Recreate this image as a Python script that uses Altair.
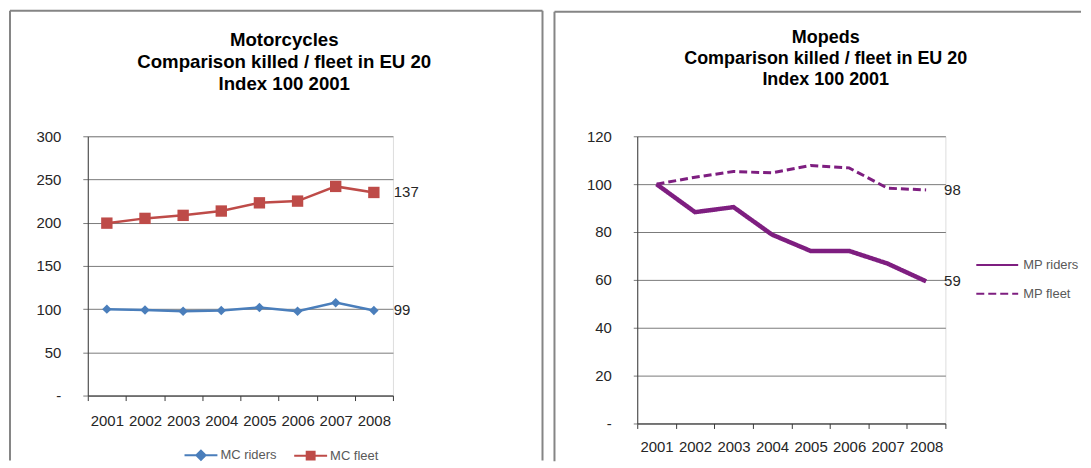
import altair as alt
import pandas as pd

years = ["2001", "2002", "2003", "2004", "2005", "2006", "2007", "2008"]
mc_series = ["MC riders", "MC fleet"]
mc_riders = [100, 99, 97.5, 98.5, 102, 97.5, 107.5, 98.5]
mc_fleet = [199.5, 205, 208.5, 213.5, 223, 225, 242, 235]
mc_end_labels = ["99", "137"]
mc_title = ["Motorcycles", "Comparison killed / fleet in EU 20", "Index 100 2001"]
mc_ticks = [0, 50, 100, 150, 200, 250, 300]

mp_series = ["MP riders", "MP fleet"]
mp_riders = [100, 88.3, 90.4, 78.9, 72.1, 72.1, 66.8, 59.4]
mp_fleet = [100, 102.9, 105.3, 104.7, 107.8, 106.8, 98.3, 97.6]
mp_end_labels = ["59", "98"]
mp_title = ["Mopeds", "Comparison killed / fleet in EU 20", "Index 100 2001"]
mp_ticks = [0, 20, 40, 60, 80, 100, 120]

FONT = "Liberation Sans"
BLUE = "#4A7EBB"
RED = "#BE4B48"
PURPLE = "#7E1E80"
GRID = "#7a7a7a"
AXIS = "#3a3a3a"
FRAME = "#858585"
TXT = "#262626"

DIAMOND_LINE = "M-1,0L1,0M0,-0.28L0.28,0L0,0.28L-0.28,0Z"
SQUARE_LINE = "M-1,0L1,0M-0.24,-0.24L0.24,-0.24L0.24,0.24L-0.24,0.24Z"


def long_df(names, values_list, end_labels):
    rows = []
    for name, vals, lab in zip(names, values_list, end_labels):
        for i, (yr, v) in enumerate(zip(years, vals)):
            rows.append({"year": yr, "value": v, "series": name,
                         "end": lab if i == len(years) - 1 else ""})
    return pd.DataFrame(rows)


def x_enc(label_pad):
    return alt.X("year:N", sort=years,
                 scale=alt.Scale(type="band", domain=years, paddingInner=0, paddingOuter=0),
                 axis=alt.Axis(title=None, labelAngle=0, labelFont=FONT, labelFontSize=15,
                               labelColor=TXT, tickBand="extent", tickSize=5, tickColor=AXIS,
                               domainColor=AXIS, labelPadding=label_pad, grid=False))


def y_enc(top, ticks, tick_size, label_pad):
    return alt.Y("value:Q", scale=alt.Scale(domain=[0, top], nice=False),
                 axis=alt.Axis(title=None, values=ticks,
                               labelExpr="datum.value == 0 ? '-' : datum.label",
                               labelFont=FONT, labelFontSize=15, labelColor=TXT,
                               tickSize=tick_size, tickColor=GRID, gridColor=GRID,
                               domainColor=AXIS, labelPadding=label_pad))


def blank():
    return alt.Chart(alt.Data(values=[{}]))


# ---------------- Left panel: Motorcycles ----------------
mc_df = long_df(mc_series, [mc_riders, mc_fleet], mc_end_labels)
xl = x_enc(13)
yl = y_enc(300, mc_ticks, 5, 22)
base_l = alt.Chart(mc_df)

l_frame = [
    blank().mark_rule(color=FRAME, strokeWidth=2).encode(x=alt.value(-78), x2=alt.value(456), y=alt.value(-126)),
    blank().mark_rule(color=FRAME, strokeWidth=2).encode(x=alt.value(-78), y=alt.value(-126), y2=alt.value(325)),
    blank().mark_rule(color=FRAME, strokeWidth=2).encode(x=alt.value(456), y=alt.value(-126), y2=alt.value(325)),
]
l_title = blank().mark_text(text=mc_title, font=FONT, fontSize=18.7, fontWeight="bold",
                            lineHeight=22.5, align="center", baseline="middle",
                            color="#000000").encode(x=alt.value(197), y=alt.value(-97))
l_line_r = base_l.transform_filter(alt.datum.series == mc_series[0]).mark_line(
    color=BLUE, strokeWidth=2.5).encode(x=xl, y=yl)
l_line_f = base_l.transform_filter(alt.datum.series == mc_series[1]).mark_line(
    color=RED, strokeWidth=2.5).encode(x=xl, y=yl)
l_pt_r = base_l.transform_filter(alt.datum.series == mc_series[0]).mark_point(
    shape="diamond", filled=True, size=90, color=BLUE, opacity=1).encode(x=xl, y=yl)
l_pt_f = base_l.transform_filter(alt.datum.series == mc_series[1]).mark_point(
    shape="square", filled=True, size=130, color=RED, opacity=1).encode(x=xl, y=yl)
l_end = base_l.transform_filter(alt.datum.end != "").mark_text(
    align="left", baseline="middle", dx=20, font=FONT, fontSize=15, color=TXT).encode(
    x=xl, y=yl, text="end:N")

leg_l = alt.Legend(title=None, orient="none", legendX=96, legendY=302, direction="horizontal",
                   symbolSize=1089, symbolStrokeWidth=2, labelFont=FONT, labelFontSize=13,
                   labelColor="#595959", labelOffset=2, columnPadding=13, padding=0)
l_leg = base_l.transform_filter("false").mark_point(filled=True, opacity=1).encode(
    color=alt.Color("series:N", scale=alt.Scale(domain=mc_series, range=[BLUE, RED]), legend=leg_l),
    stroke=alt.Stroke("series:N", scale=alt.Scale(domain=mc_series, range=[BLUE, RED]), legend=leg_l),
    shape=alt.Shape("series:N", scale=alt.Scale(domain=mc_series, range=[DIAMOND_LINE, SQUARE_LINE]),
                    legend=leg_l),
)

left = alt.layer(*l_frame, l_title, l_line_r, l_line_f, l_pt_r, l_pt_f, l_end, l_leg).properties(
    width=306, height=260)

# ---------------- Right panel: Mopeds ----------------
mp_df = long_df(mp_series, [mp_riders, mp_fleet], mp_end_labels)
xr = x_enc(11.5)
yr = y_enc(120, mp_ticks, 4, 22)
base_r = alt.Chart(mp_df)

r_frame = [
    blank().mark_rule(color=FRAME, strokeWidth=2).encode(x=alt.value(-83), x2=alt.value(445), y=alt.value(-125)),
    blank().mark_rule(color=FRAME, strokeWidth=2).encode(x=alt.value(-83), y=alt.value(-125), y2=alt.value(326)),
]
r_title = blank().mark_text(text=mp_title, font=FONT, fontSize=18, fontWeight="bold",
                            lineHeight=21.5, align="center", baseline="middle",
                            color="#000000").encode(x=alt.value(189), y=alt.value(-99))

leg_r = alt.Legend(title=None, orient="none", legendX=339, legendY=107, direction="vertical",
                   symbolType="stroke", symbolSize=1764, symbolStrokeColor=PURPLE,
                   symbolStrokeWidth=2, labelFont=FONT, labelFontSize=13, labelColor="#595959",
                   labelOffset=4, rowPadding=-10, padding=0)
dash = alt.StrokeDash("series:N", scale=alt.Scale(domain=mp_series, range=[[1, 0], [8, 4]]),
                      legend=leg_r)
r_line_r = base_r.transform_filter(alt.datum.series == mp_series[0]).mark_line(
    color=PURPLE, strokeWidth=4.5).encode(x=xr, y=yr, strokeDash=dash)
r_line_f = base_r.transform_filter(alt.datum.series == mp_series[1]).mark_line(
    color=PURPLE, strokeWidth=3).encode(x=xr, y=yr, strokeDash=dash)
r_end = base_r.transform_filter(alt.datum.end != "").mark_text(
    align="left", baseline="middle", dx=18, font=FONT, fontSize=15, color=TXT).encode(
    x=xr, y=yr, text="end:N")

right = alt.layer(*r_frame, r_title, r_line_r, r_line_f, r_end).properties(width=309, height=288)

chart = alt.hconcat(left, right, spacing=8).resolve_scale(
    color="independent", stroke="independent", shape="independent", strokeDash="independent"
).resolve_legend(
    color="independent", stroke="independent", shape="independent", strokeDash="independent"
).properties(padding=0, background="white").configure_view(strokeWidth=0).configure(font=FONT)

chart.save("out.html", embed_options={"renderer": "svg", "actions": False})
